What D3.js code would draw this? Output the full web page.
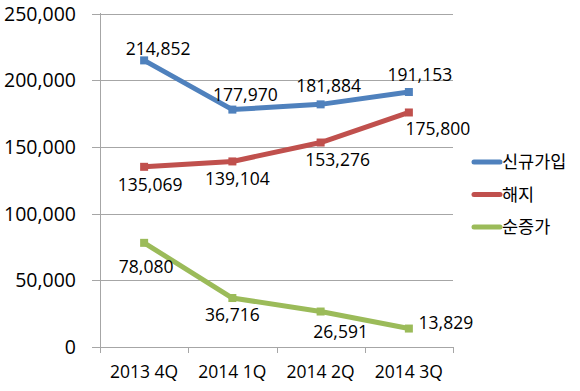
<!DOCTYPE html>
<html><head><meta charset="utf-8">
<script src="https://cdn.jsdelivr.net/npm/d3@7"></script>
<style>body{margin:0;background:#fff}svg{display:block}</style>
</head><body>
<svg id="c" width="580" height="391"></svg>
<script>
const categories = ["2013 4Q", "2014 1Q", "2014 2Q", "2014 3Q"];
const seriesNames = ["신규가입", "해지", "순증가"];
const newSubs = [214852, 177970, 181884, 191153];
const cancels = [135069, 139104, 153276, 175800];
const netAdds = [78080, 36716, 26591, 13829];
const yTicks = [0, 50000, 100000, 150000, 200000, 250000];

const colors = ["#4F81BD", "#C0504D", "#9BBB59"];
// label placement (offset of label centre from point), layout only
const labelOffsets = [
  [[14,-12],[13,-15],[8,-19],[11,-17]],
  [[6,18],[5,17],[17,17],[29,16]],
  [[2,24],[0,17],[20,20],[37,-6]]
];
const series = [newSubs, cancels, netAdds];

const svg = d3.select("#c");
const numFont = "'Open Sans', sans-serif";
const krFont = "'Noto Sans CJK KR', sans-serif";
const x = d3.scaleBand().domain(categories).range([100, 453]).padding(0);
const y = d3.scaleLinear().domain([0, 250000]).range([347, 13.5]);

// gridlines
svg.append("g").selectAll("line").data(yTicks).join("line")
  .attr("x1", 92).attr("x2", 453)
  .attr("y1", d => Math.round(y(d)) + 0.5).attr("y2", d => Math.round(y(d)) + 0.5)
  .attr("stroke", "#a6a6a6").attr("stroke-width", 1);

// y axis line
svg.append("line").attr("x1", 100.5).attr("x2", 100.5).attr("y1", 13).attr("y2", 353)
  .attr("stroke", "#a6a6a6");

// x ticks
const xTickPos = categories.map(c => x(c)).concat([x(categories[categories.length-1]) + x.bandwidth()]);
svg.append("g").selectAll("line").data(xTickPos).join("line")
  .attr("x1", d => Math.round(d) + 0.5).attr("x2", d => Math.round(d) + 0.5)
  .attr("y1", 347).attr("y2", 353).attr("stroke", "#a6a6a6");

// y tick labels
const fmt = d3.format(",");
svg.append("g").selectAll("text").data(yTicks).join("text")
  .attr("x", 76).attr("y", d => y(d)).attr("dy", "0.36em")
  .attr("text-anchor", "end").attr("font-family", numFont).attr("font-size", 19.5)
  .attr("fill", "#000").text(d => fmt(d));

// x labels
svg.append("g").selectAll("text").data(categories).join("text")
  .attr("x", d => x(d) + x.bandwidth() / 2).attr("y", 378)
  .attr("text-anchor", "middle").attr("font-family", numFont).attr("font-size", 17.5)
  .attr("fill", "#000").text(d => d);

// lines
const line = d3.line().x((d, i) => x(categories[i]) + x.bandwidth() / 2).y(d => y(d));
series.forEach((s, si) => {
  svg.append("path").datum(s).attr("d", line).attr("fill", "none")
    .attr("stroke", colors[si]).attr("stroke-width", 5).attr("stroke-linejoin", "round");
  svg.append("g").selectAll("rect").data(s).join("rect")
    .attr("x", (d, i) => x(categories[i]) + x.bandwidth() / 2 - 4)
    .attr("y", d => y(d) - 4).attr("width", 8).attr("height", 8)
    .attr("fill", colors[si]);
  svg.append("g").selectAll("text").data(s).join("text")
    .attr("x", (d, i) => x(categories[i]) + x.bandwidth() / 2 + labelOffsets[si][i][0])
    .attr("y", (d, i) => y(d) + labelOffsets[si][i][1]).attr("dy", "0.36em")
    .attr("text-anchor", "middle").attr("font-family", numFont).attr("font-size", 17.5)
    .attr("fill", "#000").text(d => fmt(d));
});

// legend
const lg = svg.append("g");
seriesNames.forEach((n, i) => {
  const yy = 162 + i * 32.5;
  lg.append("line").attr("x1", 474).attr("x2", 500).attr("y1", yy).attr("y2", yy)
    .attr("stroke", colors[i]).attr("stroke-width", 5).attr("stroke-linecap", "round");
  lg.append("text").attr("x", 502).attr("y", yy).attr("dy", "0.36em")
    .attr("font-family", krFont).attr("font-size", 17.5).attr("fill", "#000").text(n);
});
</script>
</body></html>
